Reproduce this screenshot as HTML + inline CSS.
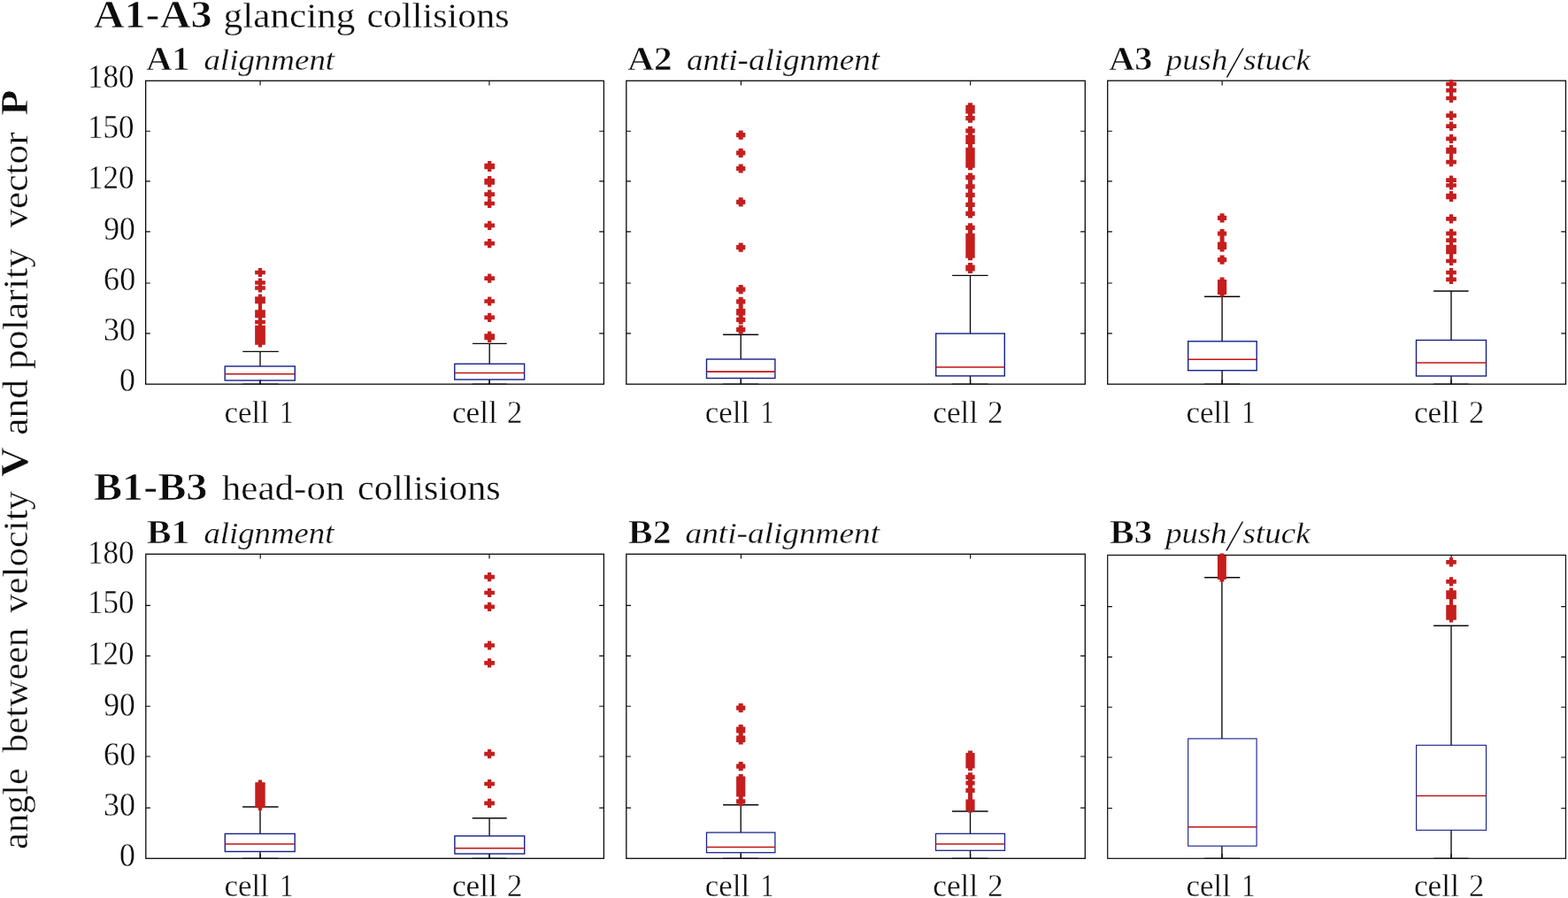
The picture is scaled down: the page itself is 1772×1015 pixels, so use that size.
<!DOCTYPE html>
<html lang="en"><head><meta charset="utf-8"><title>Boxplots: angle between velocity V and polarity vector P</title>
<style>
html,body{margin:0;padding:0;background:#fff;}
body{width:1772px;height:1015px;overflow:hidden;}
svg{display:block;}
text{font-family:'Liberation Serif', 'DejaVu Serif', serif;fill:#0c0c0c;stroke:#fff;stroke-width:0.32px;}
.b{stroke-width:0.7px;}
.b{font-weight:bold;} .i{font-style:italic;stroke-width:0.25px;}
.fr{fill:none;stroke:#0a0a0a;}
.tk{stroke:#0a0a0a;stroke-width:1.15;}
.wh{stroke:#0a0a0a;fill:none;}
.sl{stroke-width:0.6px;}
.lc{stroke:#0a0a0a;stroke-width:0.8;fill:none;}
.bx{stroke:#14208c;fill:none;}
.md{stroke:#c41212;}
.o{fill:#c41e1e;}
</style></head><body>
<svg width="1772" height="1015" viewBox="0 0 1772 1015">
<rect width="1772" height="1015" fill="#fff"/>

<g id="panel-A1">
<rect class="fr" stroke-width="1.3" x="164.65" y="91.3" width="517.75" height="342.9"/>
<path class="tk" d="M164.65 148.2h5.2M682.4 148.2h-5.2M164.65 204.9h5.2M682.4 204.9h-5.2M164.65 261.9h5.2M682.4 261.9h-5.2M164.65 320h5.2M682.4 320h-5.2M164.65 376.9h5.2M682.4 376.9h-5.2M294.09 91.3v5.2M294.09 434.2v-5.2M552.96 91.3v5.2M552.96 434.2v-5.2"/>
<path class="wh" stroke-width="1.35" d="M294 414V397.3M274.3 397.3H314.8M294 430V434.2"/>
<path class="lc" d="M274.3 434H314.8"/>
<rect class="bx" stroke-width="1.4" x="254.2" y="414" width="79.1" height="16"/>
<path class="md" stroke-width="1.55" d="M254.2 422.7H333.3"/>
<path class="o" d="M288.15 305.65h11.7v4.7h-11.7zM291.9 302.9h4.2v10.2h-4.2zM288.15 317.15h11.7v4.7h-11.7zM291.9 314.4h4.2v10.2h-4.2zM288.15 323.15h11.7v4.7h-11.7zM291.9 320.4h4.2v10.2h-4.2zM288.15 335.25h11.7v4.7h-11.7zM291.9 332.5h4.2v10.2h-4.2zM288.15 338.65h11.7v4.7h-11.7zM291.9 335.9h4.2v10.2h-4.2zM291.9 341.9h4.2v10.2h-4.2zM288.15 350.25h11.7v4.7h-11.7zM291.9 347.5h4.2v10.2h-4.2zM288.15 354.45h11.7v4.7h-11.7zM291.9 351.7h4.2v10.2h-4.2zM288.15 361.65h11.7v4.7h-11.7zM291.9 358.9h4.2v10.2h-4.2zM288.15 367.65h11.7v4.7h-11.7zM291.9 364.9h4.2v10.2h-4.2zM288.15 370.15h11.7v4.7h-11.7zM291.9 367.4h4.2v10.2h-4.2zM288.15 372.65h11.7v4.7h-11.7zM291.9 369.9h4.2v10.2h-4.2zM288.15 375.15h11.7v4.7h-11.7zM291.9 372.4h4.2v10.2h-4.2zM288.15 377.65h11.7v4.7h-11.7zM291.9 374.9h4.2v10.2h-4.2zM288.15 380.15h11.7v4.7h-11.7zM291.9 377.4h4.2v10.2h-4.2zM288.15 382.65h11.7v4.7h-11.7zM291.9 379.9h4.2v10.2h-4.2zM288.15 385.15h11.7v4.7h-11.7zM291.9 382.4h4.2v10.2h-4.2z"/>
<path class="wh" stroke-width="1.35" d="M553.2 411.3V388.4M534 388.4H572.7M553.2 429V434.2"/>
<path class="lc" d="M534 434H572.7"/>
<rect class="bx" stroke-width="1.4" x="513.8" y="411.3" width="78.8" height="17.7"/>
<path class="md" stroke-width="1.55" d="M513.8 421.5H592.6"/>
<path class="o" d="M547.35 184.65h11.7v4.7h-11.7zM551.1 181.9h4.2v10.2h-4.2zM547.35 186.65h11.7v4.7h-11.7zM551.1 183.9h4.2v10.2h-4.2zM547.35 201.65h11.7v4.7h-11.7zM551.1 198.9h4.2v10.2h-4.2zM547.35 204.15h11.7v4.7h-11.7zM551.1 201.4h4.2v10.2h-4.2zM547.35 217.25h11.7v4.7h-11.7zM551.1 214.5h4.2v10.2h-4.2zM547.35 227.65h11.7v4.7h-11.7zM551.1 224.9h4.2v10.2h-4.2zM547.35 252.55h11.7v4.7h-11.7zM551.1 249.8h4.2v10.2h-4.2zM547.35 272.85h11.7v4.7h-11.7zM551.1 270.1h4.2v10.2h-4.2zM547.35 312.25h11.7v4.7h-11.7zM551.1 309.5h4.2v10.2h-4.2zM547.35 338.15h11.7v4.7h-11.7zM551.1 335.4h4.2v10.2h-4.2zM547.35 356.45h11.7v4.7h-11.7zM551.1 353.7h4.2v10.2h-4.2zM547.35 377.15h11.7v4.7h-11.7zM551.1 374.4h4.2v10.2h-4.2zM547.35 379.65h11.7v4.7h-11.7zM551.1 376.9h4.2v10.2h-4.2z"/>
</g>
<g id="panel-A2">
<rect class="fr" stroke-width="1.3" x="707.8" y="91.3" width="518.5" height="342.9"/>
<path class="tk" d="M707.8 148.2h5.2M1226.3 148.2h-5.2M707.8 204.9h5.2M1226.3 204.9h-5.2M707.8 261.9h5.2M1226.3 261.9h-5.2M707.8 320h5.2M1226.3 320h-5.2M707.8 376.9h5.2M1226.3 376.9h-5.2M837.42 91.3v5.2M837.42 434.2v-5.2M1096.67 91.3v5.2M1096.67 434.2v-5.2"/>
<path class="wh" stroke-width="1.35" d="M837.2 406V378.2M817.1 378.2H857.2M837.2 427.5V434.2"/>
<path class="lc" d="M817.1 434H857.2"/>
<rect class="bx" stroke-width="1.4" x="798.5" y="406" width="77.4" height="21.5"/>
<path class="md" stroke-width="1.55" d="M798.5 420.1H875.9"/>
<path class="o" d="M832.1 150.1h10.2v5.2h-10.2zM834.7 147.6h5v10.2h-5zM832.1 170.3h10.2v5.2h-10.2zM834.7 167.8h5v10.2h-5zM832.1 187.9h10.2v5.2h-10.2zM834.7 185.4h5v10.2h-5zM832.1 225.7h10.2v5.2h-10.2zM834.7 223.2h5v10.2h-5zM832.1 277h10.2v5.2h-10.2zM834.7 274.5h5v10.2h-5zM832.1 324.5h10.2v5.2h-10.2zM834.7 322h5v10.2h-5zM832.1 338.2h10.2v5.2h-10.2zM834.7 335.7h5v10.2h-5zM834.7 340.9h5v10.2h-5zM832.1 348.9h10.2v5.2h-10.2zM834.7 346.4h5v10.2h-5zM832.1 351.4h10.2v5.2h-10.2zM834.7 348.9h5v10.2h-5zM832.1 358.8h10.2v5.2h-10.2zM834.7 356.3h5v10.2h-5zM832.1 370h10.2v5.2h-10.2zM834.7 367.5h5v10.2h-5z"/>
<path class="wh" stroke-width="1.35" d="M1096.5 377V311.3M1076.1 311.3H1116.6M1096.5 424.9V434.2"/>
<path class="lc" d="M1076.1 434H1116.6"/>
<rect class="bx" stroke-width="1.4" x="1057.7" y="377" width="77.6" height="47.9"/>
<path class="md" stroke-width="1.55" d="M1057.7 414.9H1135.3"/>
<path class="o" d="M1091.3 118.7h10.4v5.2h-10.4zM1094 116.2h5v10.2h-5zM1091.3 120.9h10.4v5.2h-10.4zM1094 118.4h5v10.2h-5zM1091.3 123.2h10.4v5.2h-10.4zM1094 120.7h5v10.2h-5zM1091.3 131h10.4v5.2h-10.4zM1094 128.5h5v10.2h-5zM1091.3 145.3h10.4v5.2h-10.4zM1094 142.8h5v10.2h-5zM1091.3 152.4h10.4v5.2h-10.4zM1094 149.9h5v10.2h-5zM1091.3 154.9h10.4v5.2h-10.4zM1094 152.4h5v10.2h-5zM1091.3 157.7h10.4v5.2h-10.4zM1094 155.2h5v10.2h-5zM1094 159.9h5v10.2h-5zM1091.3 166.8h10.4v5.2h-10.4zM1094 164.3h5v10.2h-5zM1091.3 169.35h10.4v5.2h-10.4zM1094 166.85h5v10.2h-5zM1091.3 171.9h10.4v5.2h-10.4zM1094 169.4h5v10.2h-5zM1091.3 174.45h10.4v5.2h-10.4zM1094 171.95h5v10.2h-5zM1091.3 177h10.4v5.2h-10.4zM1094 174.5h5v10.2h-5zM1091.3 179.55h10.4v5.2h-10.4zM1094 177.05h5v10.2h-5zM1091.3 182.1h10.4v5.2h-10.4zM1094 179.6h5v10.2h-5zM1091.3 184.65h10.4v5.2h-10.4zM1094 182.15h5v10.2h-5zM1091.3 198.1h10.4v5.2h-10.4zM1094 195.6h5v10.2h-5zM1094 200.9h5v10.2h-5zM1091.3 208.3h10.4v5.2h-10.4zM1094 205.8h5v10.2h-5zM1094 210.5h5v10.2h-5zM1091.3 217.8h10.4v5.2h-10.4zM1094 215.3h5v10.2h-5zM1094 220.9h5v10.2h-5zM1091.3 228.7h10.4v5.2h-10.4zM1094 226.2h5v10.2h-5zM1094 231.2h5v10.2h-5zM1091.3 238.7h10.4v5.2h-10.4zM1094 236.2h5v10.2h-5zM1091.3 254.7h10.4v5.2h-10.4zM1094 252.2h5v10.2h-5zM1094 256.9h5v10.2h-5zM1091.3 263.8h10.4v5.2h-10.4zM1094 261.3h5v10.2h-5zM1091.3 266.32h10.4v5.2h-10.4zM1094 263.82h5v10.2h-5zM1091.3 268.84h10.4v5.2h-10.4zM1094 266.34h5v10.2h-5zM1091.3 271.36h10.4v5.2h-10.4zM1094 268.86h5v10.2h-5zM1091.3 273.88h10.4v5.2h-10.4zM1094 271.38h5v10.2h-5zM1091.3 276.4h10.4v5.2h-10.4zM1094 273.9h5v10.2h-5zM1091.3 278.92h10.4v5.2h-10.4zM1094 276.42h5v10.2h-5zM1091.3 281.44h10.4v5.2h-10.4zM1094 278.94h5v10.2h-5zM1091.3 283.96h10.4v5.2h-10.4zM1094 281.46h5v10.2h-5zM1091.3 286.48h10.4v5.2h-10.4zM1094 283.98h5v10.2h-5zM1091.3 299.4h10.4v5.2h-10.4zM1094 296.9h5v10.2h-5zM1091.3 301.4h10.4v5.2h-10.4zM1094 298.9h5v10.2h-5z"/>
</g>
<g id="panel-A3">
<rect class="fr" stroke-width="1.3" x="1251.7" y="91.2" width="517.75" height="343"/>
<path class="tk" d="M1251.7 148.2h5.2M1769.45 148.2h-5.2M1251.7 204.9h5.2M1769.45 204.9h-5.2M1251.7 261.9h5.2M1769.45 261.9h-5.2M1251.7 320h5.2M1769.45 320h-5.2M1251.7 376.9h5.2M1769.45 376.9h-5.2M1381.14 91.2v5.2M1381.14 434.2v-5.2M1640.01 91.2v5.2M1640.01 434.2v-5.2"/>
<path class="wh" stroke-width="1.35" d="M1381.1 385.8V335.2M1361.1 335.2H1401.3M1381.1 418.7V434.2"/>
<path class="lc" d="M1361.1 434H1401.3"/>
<rect class="bx" stroke-width="1.4" x="1342.7" y="385.8" width="77.5" height="32.9"/>
<path class="md" stroke-width="1.55" d="M1342.7 406.2H1420.2"/>
<path class="o" d="M1376 243.7h10.2v5.2h-10.2zM1378.6 241.2h5v10.2h-5zM1376 261.4h10.2v5.2h-10.2zM1378.6 258.9h5v10.2h-5zM1378.6 264.9h5v10.2h-5zM1376 273.4h10.2v5.2h-10.2zM1378.6 270.9h5v10.2h-5zM1376 276.9h10.2v5.2h-10.2zM1378.6 274.4h5v10.2h-5zM1376 291h10.2v5.2h-10.2zM1378.6 288.5h5v10.2h-5zM1376 315.9h10.2v5.2h-10.2zM1378.6 313.4h5v10.2h-5zM1376 318.3h10.2v5.2h-10.2zM1378.6 315.8h5v10.2h-5zM1376 320.7h10.2v5.2h-10.2zM1378.6 318.2h5v10.2h-5zM1376 323.1h10.2v5.2h-10.2zM1378.6 320.6h5v10.2h-5zM1376 325.5h10.2v5.2h-10.2zM1378.6 323h5v10.2h-5zM1376 327.9h10.2v5.2h-10.2zM1378.6 325.4h5v10.2h-5z"/>
<path class="wh" stroke-width="1.35" d="M1640 384.5V329M1620.1 329H1659.6M1640 425V434.2"/>
<path class="lc" d="M1620.1 434H1659.6"/>
<rect class="bx" stroke-width="1.4" x="1600.5" y="384.5" width="79" height="40.5"/>
<path class="md" stroke-width="1.55" d="M1600.5 410H1679.5"/>
<path class="o" d="M1634.15 92.65h11.7v4.7h-11.7zM1637.9 89.9h4.2v10.2h-4.2zM1634.15 99.85h11.7v4.7h-11.7zM1637.9 97.1h4.2v10.2h-4.2zM1634.15 108.65h11.7v4.7h-11.7zM1637.9 105.9h4.2v10.2h-4.2zM1634.15 128.25h11.7v4.7h-11.7zM1637.9 125.5h4.2v10.2h-4.2zM1634.15 140.25h11.7v4.7h-11.7zM1637.9 137.5h4.2v10.2h-4.2zM1634.15 154.45h11.7v4.7h-11.7zM1637.9 151.7h4.2v10.2h-4.2zM1634.15 166.65h11.7v4.7h-11.7zM1637.9 163.9h4.2v10.2h-4.2zM1634.15 169.15h11.7v4.7h-11.7zM1637.9 166.4h4.2v10.2h-4.2zM1637.9 171.9h4.2v10.2h-4.2zM1634.15 180.75h11.7v4.7h-11.7zM1637.9 178h4.2v10.2h-4.2zM1634.15 201.25h11.7v4.7h-11.7zM1637.9 198.5h4.2v10.2h-4.2zM1634.15 207.15h11.7v4.7h-11.7zM1637.9 204.4h4.2v10.2h-4.2zM1634.15 218.65h11.7v4.7h-11.7zM1637.9 215.9h4.2v10.2h-4.2zM1634.15 220.65h11.7v4.7h-11.7zM1637.9 217.9h4.2v10.2h-4.2zM1634.15 244.95h11.7v4.7h-11.7zM1637.9 242.2h4.2v10.2h-4.2zM1634.15 261.55h11.7v4.7h-11.7zM1637.9 258.8h4.2v10.2h-4.2zM1634.15 269.25h11.7v4.7h-11.7zM1637.9 266.5h4.2v10.2h-4.2zM1634.15 276.65h11.7v4.7h-11.7zM1637.9 273.9h4.2v10.2h-4.2zM1634.15 279.65h11.7v4.7h-11.7zM1637.9 276.9h4.2v10.2h-4.2zM1634.15 282.65h11.7v4.7h-11.7zM1637.9 279.9h4.2v10.2h-4.2zM1637.9 284.9h4.2v10.2h-4.2zM1634.15 292.65h11.7v4.7h-11.7zM1637.9 289.9h4.2v10.2h-4.2zM1634.15 305.65h11.7v4.7h-11.7zM1637.9 302.9h4.2v10.2h-4.2zM1634.15 313.45h11.7v4.7h-11.7zM1637.9 310.7h4.2v10.2h-4.2z"/>
</g>
<g id="panel-B1">
<rect class="fr" stroke-width="1.3" x="164.8" y="626.3" width="517.6" height="344"/>
<path class="tk" d="M164.8 684.3h5.2M682.4 684.3h-5.2M164.8 741.3h5.2M682.4 741.3h-5.2M164.8 798.2h5.2M682.4 798.2h-5.2M164.8 855h5.2M682.4 855h-5.2M164.8 913.1h5.2M682.4 913.1h-5.2M294.2 626.3v5.2M294.2 970.3v-5.2M553 626.3v5.2M553 970.3v-5.2"/>
<path class="wh" stroke-width="1.35" d="M294 942.4V912M274.1 912H314.6M294 962.5V970.3"/>
<path class="lc" d="M274.1 970.1H314.6"/>
<rect class="bx" stroke-width="1.4" x="254.3" y="942.4" width="78.9" height="20.1"/>
<path class="md" stroke-width="1.55" d="M254.3 954H333.2"/>
<path class="o" d="M288.3 884.15h11.4v4.7h-11.4zM291.9 881.4h4.2v10.2h-4.2zM288.3 886.6h11.4v4.7h-11.4zM291.9 883.85h4.2v10.2h-4.2zM288.3 889.05h11.4v4.7h-11.4zM291.9 886.3h4.2v10.2h-4.2zM288.3 891.5h11.4v4.7h-11.4zM291.9 888.75h4.2v10.2h-4.2zM288.3 893.95h11.4v4.7h-11.4zM291.9 891.2h4.2v10.2h-4.2zM288.3 896.4h11.4v4.7h-11.4zM291.9 893.65h4.2v10.2h-4.2zM288.3 898.85h11.4v4.7h-11.4zM291.9 896.1h4.2v10.2h-4.2zM288.3 901.3h11.4v4.7h-11.4zM291.9 898.55h4.2v10.2h-4.2zM288.3 903.75h11.4v4.7h-11.4zM291.9 901h4.2v10.2h-4.2zM288.3 906.2h11.4v4.7h-11.4zM291.9 903.45h4.2v10.2h-4.2zM288.3 908.65h11.4v4.7h-11.4zM291.9 905.9h4.2v10.2h-4.2z"/>
<path class="wh" stroke-width="1.35" d="M553.1 944.9V924.7M533.7 924.7H572.7M553.1 965V970.3"/>
<path class="lc" d="M533.7 970.1H572.7"/>
<rect class="bx" stroke-width="1.4" x="513.9" y="944.9" width="78.8" height="20.1"/>
<path class="md" stroke-width="1.55" d="M513.9 958.8H592.7"/>
<path class="o" d="M547.25 649.85h11.7v4.7h-11.7zM551 647.1h4.2v10.2h-4.2zM547.25 667.65h11.7v4.7h-11.7zM551 664.9h4.2v10.2h-4.2zM547.25 683.45h11.7v4.7h-11.7zM551 680.7h4.2v10.2h-4.2zM547.25 727.15h11.7v4.7h-11.7zM551 724.4h4.2v10.2h-4.2zM547.25 746.95h11.7v4.7h-11.7zM551 744.2h4.2v10.2h-4.2zM547.25 849.75h11.7v4.7h-11.7zM551 847h4.2v10.2h-4.2zM547.25 883.65h11.7v4.7h-11.7zM551 880.9h4.2v10.2h-4.2zM547.25 905.55h11.7v4.7h-11.7zM551 902.8h4.2v10.2h-4.2z"/>
</g>
<g id="panel-B2">
<rect class="fr" stroke-width="1.3" x="707.8" y="626.3" width="518.5" height="344"/>
<path class="tk" d="M707.8 684.3h5.2M1226.3 684.3h-5.2M707.8 741.3h5.2M1226.3 741.3h-5.2M707.8 798.2h5.2M1226.3 798.2h-5.2M707.8 855h5.2M1226.3 855h-5.2M707.8 913.1h5.2M1226.3 913.1h-5.2M837.42 626.3v5.2M837.42 970.3v-5.2M1096.67 626.3v5.2M1096.67 970.3v-5.2"/>
<path class="wh" stroke-width="1.35" d="M837.2 941V909.7M817.1 909.7H857.3M837.2 963.7V970.3"/>
<path class="lc" d="M817.1 970.1H857.3"/>
<rect class="bx" stroke-width="1.26" x="798.5" y="941" width="77.4" height="22.7"/>
<path class="md" stroke-width="1.46" d="M798.5 957.6H875.9"/>
<path class="o" d="M832.1 797.5h10.2v5.2h-10.2zM834.7 795h5v10.2h-5zM832.1 821.4h10.2v5.2h-10.2zM834.7 818.9h5v10.2h-5zM832.1 823.4h10.2v5.2h-10.2zM834.7 820.9h5v10.2h-5zM832.1 831.4h10.2v5.2h-10.2zM834.7 828.9h5v10.2h-5zM832.1 833.9h10.2v5.2h-10.2zM834.7 831.4h5v10.2h-5zM832.1 863.5h10.2v5.2h-10.2zM834.7 861h5v10.2h-5zM832.1 877.4h10.2v5.2h-10.2zM834.7 874.9h5v10.2h-5zM832.1 879.97h10.2v5.2h-10.2zM834.7 877.47h5v10.2h-5zM832.1 882.54h10.2v5.2h-10.2zM834.7 880.04h5v10.2h-5zM832.1 885.11h10.2v5.2h-10.2zM834.7 882.61h5v10.2h-5zM832.1 887.68h10.2v5.2h-10.2zM834.7 885.18h5v10.2h-5zM832.1 890.25h10.2v5.2h-10.2zM834.7 887.75h5v10.2h-5zM832.1 892.82h10.2v5.2h-10.2zM834.7 890.32h5v10.2h-5zM832.1 895.39h10.2v5.2h-10.2zM834.7 892.89h5v10.2h-5zM832.1 903.2h10.2v5.2h-10.2zM834.7 900.7h5v10.2h-5z"/>
<path class="wh" stroke-width="1.35" d="M1096.5 942.3V917M1076 917H1116.6M1096.5 961.3V970.3"/>
<path class="lc" d="M1076 970.1H1116.6"/>
<rect class="bx" stroke-width="1.26" x="1057.5" y="942.3" width="78" height="19"/>
<path class="md" stroke-width="1.46" d="M1057.5 953.9H1135.5"/>
<path class="o" d="M1091.4 850.9h10.2v5.2h-10.2zM1094 848.4h5v10.2h-5zM1091.4 853.4h10.2v5.2h-10.2zM1094 850.9h5v10.2h-5zM1091.4 855.9h10.2v5.2h-10.2zM1094 853.4h5v10.2h-5zM1091.4 858.4h10.2v5.2h-10.2zM1094 855.9h5v10.2h-5zM1091.4 860.9h10.2v5.2h-10.2zM1094 858.4h5v10.2h-5zM1091.4 863.4h10.2v5.2h-10.2zM1094 860.9h5v10.2h-5zM1091.4 875.7h10.2v5.2h-10.2zM1094 873.2h5v10.2h-5zM1094 876.6h5v10.2h-5zM1091.4 882.4h10.2v5.2h-10.2zM1094 879.9h5v10.2h-5zM1094 884.1h5v10.2h-5zM1091.4 890.7h10.2v5.2h-10.2zM1094 888.2h5v10.2h-5zM1094 893.9h5v10.2h-5zM1091.4 903.4h10.2v5.2h-10.2zM1094 900.9h5v10.2h-5zM1091.4 905.9h10.2v5.2h-10.2zM1094 903.4h5v10.2h-5zM1091.4 908.4h10.2v5.2h-10.2zM1094 905.9h5v10.2h-5zM1091.4 910.9h10.2v5.2h-10.2zM1094 908.4h5v10.2h-5z"/>
</g>
<g id="panel-B3">
<rect class="fr" stroke-width="1.2" x="1251.7" y="627.45" width="517.75" height="342.85"/>
<path class="tk" d="M1251.7 685.6h5.2M1769.45 685.6h-5.2M1251.7 742.6h5.2M1769.45 742.6h-5.2M1251.7 799.2h5.2M1769.45 799.2h-5.2M1251.7 856h5.2M1769.45 856h-5.2M1251.7 913.5h5.2M1769.45 913.5h-5.2M1381.14 627.45v5.2M1381.14 970.3v-5.2M1640.01 627.45v5.2M1640.01 970.3v-5.2"/>
<path class="wh" stroke-width="1.35" d="M1380.9 834.9V652.7M1361.1 652.7H1401.3M1380.9 956.2V970.3"/>
<path class="lc" d="M1361.1 970.1H1401.3"/>
<rect class="bx" stroke-width="1.12" x="1342.7" y="834.9" width="77.4" height="121.3"/>
<path class="md" stroke-width="1.36" d="M1342.7 934.7H1420.1"/>
<path class="o" d="M1375.95 627.9h9.9v5.2h-9.9zM1378.4 625.4h5v10.2h-5zM1375.95 630.34h9.9v5.2h-9.9zM1378.4 627.84h5v10.2h-5zM1375.95 632.78h9.9v5.2h-9.9zM1378.4 630.28h5v10.2h-5zM1375.95 635.22h9.9v5.2h-9.9zM1378.4 632.72h5v10.2h-5zM1375.95 637.66h9.9v5.2h-9.9zM1378.4 635.16h5v10.2h-5zM1375.95 640.1h9.9v5.2h-9.9zM1378.4 637.6h5v10.2h-5zM1375.95 642.54h9.9v5.2h-9.9zM1378.4 640.04h5v10.2h-5zM1375.95 644.98h9.9v5.2h-9.9zM1378.4 642.48h5v10.2h-5zM1375.95 647.42h9.9v5.2h-9.9zM1378.4 644.92h5v10.2h-5zM1375.95 649.86h9.9v5.2h-9.9zM1378.4 647.36h5v10.2h-5z"/>
<path class="wh" stroke-width="1.35" d="M1640 842.3V707.2M1620.1 707.2H1659.6M1640 938.3V970.3"/>
<path class="lc" d="M1620.1 970.1H1659.6"/>
<rect class="bx" stroke-width="1.12" x="1600.6" y="842.3" width="78.9" height="96"/>
<path class="md" stroke-width="1.36" d="M1600.6 899.5H1679.5"/>
<path class="o" d="M1634.2 633.05h11.6v4.7h-11.6zM1637.9 630.3h4.2v10.2h-4.2zM1634.2 654.95h11.6v4.7h-11.6zM1637.9 652.2h4.2v10.2h-4.2zM1634.2 667.15h11.6v4.7h-11.6zM1637.9 664.4h4.2v10.2h-4.2zM1634.2 669.65h11.6v4.7h-11.6zM1637.9 666.9h4.2v10.2h-4.2zM1634.2 672.65h11.6v4.7h-11.6zM1637.9 669.9h4.2v10.2h-4.2zM1637.9 674.9h4.2v10.2h-4.2zM1634.2 683.65h11.6v4.7h-11.6zM1637.9 680.9h4.2v10.2h-4.2zM1634.2 686.15h11.6v4.7h-11.6zM1637.9 683.4h4.2v10.2h-4.2zM1634.2 688.65h11.6v4.7h-11.6zM1637.9 685.9h4.2v10.2h-4.2zM1634.2 691.15h11.6v4.7h-11.6zM1637.9 688.4h4.2v10.2h-4.2zM1634.2 693.65h11.6v4.7h-11.6zM1637.9 690.9h4.2v10.2h-4.2zM1634.2 696.15h11.6v4.7h-11.6zM1637.9 693.4h4.2v10.2h-4.2z"/>
</g>
<g id="labels">
<text class="b" font-size="43.8" transform="translate(105.65 30.9) scale(1.1016 1.0000)">A1-A3</text>
<text font-size="40.7" transform="translate(252.59 30.9) scale(1.0628 1.0000)">glancing</text>
<text font-size="40.7" transform="translate(414.43 30.9) scale(1.0331 1.0000)">collisions</text>
<text class="b" font-size="43.8" transform="translate(105.9 565) scale(1.1005 1.0000)">B1-B3</text>
<text font-size="40.7" transform="translate(250.74 565) scale(1.0590 1.0000)">head-on</text>
<text font-size="40.7" transform="translate(404.12 565) scale(1.0357 1.0000)">collisions</text>
<text class="b" font-size="38.6" transform="translate(165.15 79.3) scale(1.0426 1.0000)">A1</text>
<text class="i" font-size="34.4" transform="translate(230.4 79.3) scale(1.0739 1.0000)">alignment</text>
<text class="b" font-size="38.6" transform="translate(709.25 79.3) scale(1.0703 1.0000)">A2</text>
<text class="i" font-size="34.4" transform="translate(775.9 79.3) scale(1.0775 1.0000)">anti-alignment</text>
<text class="b" font-size="38.6" transform="translate(1253.25 79.3) scale(1.0398 1.0000)">A3</text>
<text class="i" font-size="34.4" transform="translate(1317.87 79.3) scale(1.0679 1.0000)">push</text>
<text class="i sl" font-size="34.4" transform="translate(1387.34 87.1) scale(1.5921 1.4884)">/</text>
<text class="i" font-size="34.4" transform="translate(1405.17 79.3) scale(1.0701 1.0000)">stuck</text>
<text class="b" font-size="38.6" transform="translate(165.7 614.3) scale(1.0813 1.0000)">B1</text>
<text class="i" font-size="34.4" transform="translate(230.4 614.3) scale(1.0688 1.0000)">alignment</text>
<text class="b" font-size="38.6" transform="translate(709.8 614.3) scale(1.0824 1.0000)">B2</text>
<text class="i" font-size="34.4" transform="translate(774.49 614.3) scale(1.0844 1.0000)">anti-alignment</text>
<text class="b" font-size="38.6" transform="translate(1253.9 614.3) scale(1.0755 1.0000)">B3</text>
<text class="i" font-size="34.4" transform="translate(1317.17 614.3) scale(1.0679 1.0000)">push</text>
<text class="i sl" font-size="34.4" transform="translate(1386.64 622.1) scale(1.5921 1.4884)">/</text>
<text class="i" font-size="34.4" transform="translate(1404.47 614.3) scale(1.0798 1.0000)">stuck</text>
<text font-size="37.2" transform="translate(99.11 98.9) scale(0.9399 1.0000)">180</text>
<text font-size="37.2" transform="translate(99.11 155.7) scale(0.9399 1.0000)">150</text>
<text font-size="37.2" transform="translate(99.11 212.6) scale(0.9399 1.0000)">120</text>
<text font-size="37.2" transform="translate(117.33 271.1) scale(0.9554 1.0000)">90</text>
<text font-size="37.2" transform="translate(117.11 327.9) scale(0.9697 1.0000)">60</text>
<text font-size="37.2" transform="translate(116.96 384.8) scale(0.9658 1.0000)">30</text>
<text font-size="37.2" transform="translate(135.02 442.2) scale(0.9598 1.0000)">0</text>
<text font-size="37.2" transform="translate(99.11 636.7) scale(0.9399 1.0000)">180</text>
<text font-size="37.2" transform="translate(99.11 693.3) scale(0.9399 1.0000)">150</text>
<text font-size="37.2" transform="translate(99.11 751.4) scale(0.9399 1.0000)">120</text>
<text font-size="37.2" transform="translate(117.33 808.7) scale(0.9554 1.0000)">90</text>
<text font-size="37.2" transform="translate(117.11 865.2) scale(0.9697 1.0000)">60</text>
<text font-size="37.2" transform="translate(116.96 922.1) scale(0.9658 1.0000)">30</text>
<text font-size="37.2" transform="translate(135.02 979.2) scale(0.9598 1.0000)">0</text>
<text font-size="35.2" transform="translate(253.55 477.7) scale(0.9928 1.0000)">cell</text>
<text font-size="35.2" transform="translate(316.16 477.7) scale(0.8652 1.0000)">1</text>
<text font-size="35.2" transform="translate(510.93 477.7) scale(1.0049 1.0000)">cell</text>
<text font-size="35.2" transform="translate(572.96 477.7) scale(0.9845 1.0000)">2</text>
<text font-size="35.2" transform="translate(796.85 477.7) scale(0.9928 1.0000)">cell</text>
<text font-size="35.2" transform="translate(859.46 477.7) scale(0.8652 1.0000)">1</text>
<text font-size="35.2" transform="translate(1054.23 477.7) scale(1.0049 1.0000)">cell</text>
<text font-size="35.2" transform="translate(1116.26 477.7) scale(0.9845 1.0000)">2</text>
<text font-size="35.2" transform="translate(1340.55 477.7) scale(0.9928 1.0000)">cell</text>
<text font-size="35.2" transform="translate(1403.16 477.7) scale(0.8652 1.0000)">1</text>
<text font-size="35.2" transform="translate(1597.93 477.7) scale(1.0049 1.0000)">cell</text>
<text font-size="35.2" transform="translate(1659.96 477.7) scale(0.9845 1.0000)">2</text>
<text font-size="35.2" transform="translate(253.55 1012.8) scale(0.9928 1.0000)">cell</text>
<text font-size="35.2" transform="translate(316.16 1012.8) scale(0.8652 1.0000)">1</text>
<text font-size="35.2" transform="translate(510.93 1012.8) scale(1.0049 1.0000)">cell</text>
<text font-size="35.2" transform="translate(572.96 1012.8) scale(0.9845 1.0000)">2</text>
<text font-size="35.2" transform="translate(796.85 1012.8) scale(0.9928 1.0000)">cell</text>
<text font-size="35.2" transform="translate(859.46 1012.8) scale(0.8652 1.0000)">1</text>
<text font-size="35.2" transform="translate(1054.23 1012.8) scale(1.0049 1.0000)">cell</text>
<text font-size="35.2" transform="translate(1116.26 1012.8) scale(0.9845 1.0000)">2</text>
<text font-size="35.2" transform="translate(1340.55 1012.8) scale(0.9928 1.0000)">cell</text>
<text font-size="35.2" transform="translate(1403.16 1012.8) scale(0.8652 1.0000)">1</text>
<text font-size="35.2" transform="translate(1597.93 1012.8) scale(1.0049 1.0000)">cell</text>
<text font-size="35.2" transform="translate(1659.96 1012.8) scale(0.9845 1.0000)">2</text>
<text font-size="40.7" transform="translate(31.1 959.88) rotate(-90) scale(1.0401 1)">angle</text>
<text font-size="40.7" transform="translate(31.1 850.76) rotate(-90) scale(1.0400 1)">between</text>
<text font-size="40.7" transform="translate(31.1 692.76) rotate(-90) scale(1.0505 1)">velocity</text>
<text class="b" font-size="43.8" transform="translate(31.1 539.25) rotate(-90) scale(1.0737 1)">V</text>
<text font-size="40.7" transform="translate(31.1 491.72) rotate(-90) scale(1.0700 1)">and</text>
<text font-size="40.7" transform="translate(31.1 417.15) rotate(-90) scale(1.0775 1)">polarity</text>
<text font-size="40.7" transform="translate(31.1 257.56) rotate(-90) scale(1.0653 1)">vector</text>
<text class="b" font-size="43.8" transform="translate(31.1 130.8) rotate(-90) scale(1.0900 1)">P</text>
</g>
</svg>
</body></html>
